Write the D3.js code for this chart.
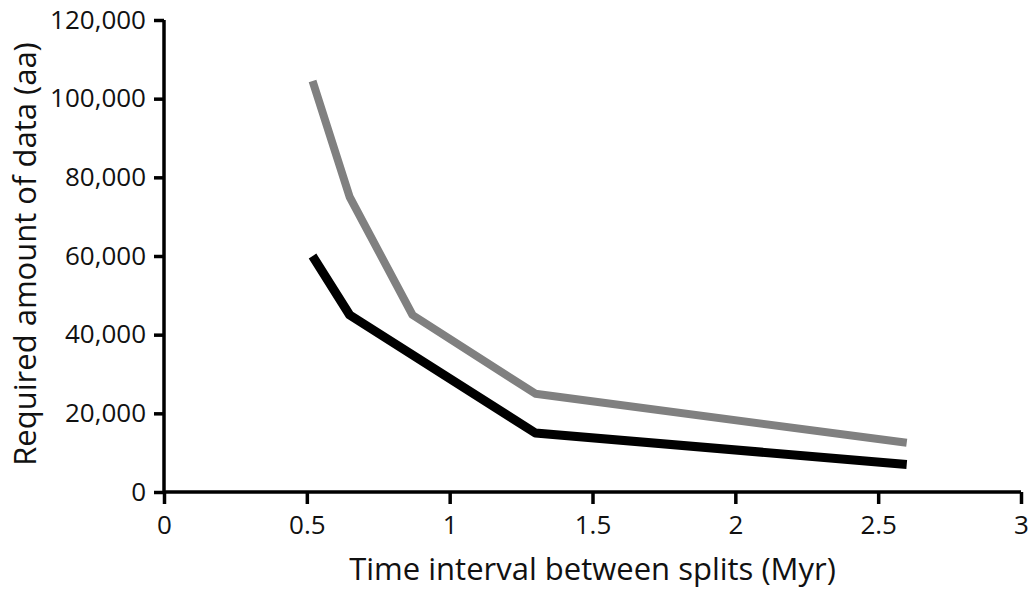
<!DOCTYPE html>
<html>
<head>
<meta charset="utf-8">
<script src="https://cdn.jsdelivr.net/npm/d3@7"></script>
<style>
  body { margin: 0; background: #fff; }
  text { font-family: "Open Sans", "DejaVu Sans", sans-serif; fill: #111; }
</style>
</head>
<body>
<div id="chart"></div>
<script>
// time interval between splits (Myr)
const times = [0.52, 0.65, 0.87, 1.3, 2.6];
// required amount of data (aa)
const grayValues = [104500, 75000, 45000, 25000, 12500];
const blackTimes = [0.52, 0.65, 1.3, 2.6];
const blackValues = [60000, 45000, 15000, 7000];
const xTicks = [0, 0.5, 1, 1.5, 2, 2.5, 3];
const yTicks = [0, 20000, 40000, 60000, 80000, 100000, 120000];

const width = 1032, height = 592;
const margin = {left: 164, right: 11, top: 20, bottom: 100};

const svg = d3.select('#chart').append('svg')
    .attr('width', width)
    .attr('height', height);

const x = d3.scaleLinear().domain([0, 3]).range([margin.left, width - margin.right]);
const y = d3.scaleLinear().domain([0, 120000]).range([492, margin.top]);

const fmt = d3.format(',');

const xAxis = svg.append('g')
    .attr('transform', `translate(0,${y(0)})`)
    .call(d3.axisBottom(x).tickValues(xTicks).tickSize(12).tickPadding(12)
        .tickFormat(d => d));

const yAxis = svg.append('g')
    .attr('transform', `translate(${x(0)},0)`)
    .call(d3.axisLeft(y).tickValues(yTicks).tickSize(10).tickPadding(8)
        .tickFormat(fmt));

[xAxis, yAxis].forEach(ax => {
    ax.select('.domain').attr('stroke', '#000').attr('stroke-width', 3.5);
    ax.selectAll('.tick line').attr('stroke', '#000').attr('stroke-width', 3.5);
    ax.selectAll('.tick text').style('font-size', '26px').attr('fill', '#111');
});
// plain axis lines without outer ticks
xAxis.select('.domain').attr('d', `M${x(0)},0H${x(3)}`);
yAxis.select('.domain').attr('d', `M0,${y(0)}V${y(120000)}`);

const line = d3.line();

svg.append('path')
    .datum(times.map((t, i) => [x(t), y(grayValues[i])]))
    .attr('d', line)
    .attr('fill', 'none')
    .attr('stroke', '#808080')
    .attr('stroke-width', 8)
    .attr('stroke-linejoin', 'round');

svg.append('path')
    .datum(blackTimes.map((t, i) => [x(t), y(blackValues[i])]))
    .attr('d', line)
    .attr('fill', 'none')
    .attr('stroke', '#000')
    .attr('stroke-width', 9)
    .attr('stroke-linejoin', 'round');

svg.append('text')
    .attr('x', (x(0) + x(3)) / 2)
    .attr('y', 580)
    .attr('text-anchor', 'middle')
    .style('font-size', '31px')
    .text('Time interval between splits (Myr)');

svg.append('text')
    .attr('transform', `translate(36,254) rotate(-90)`)
    .attr('text-anchor', 'middle')
    .style('font-size', '31px')
    .text('Required amount of data (aa)');
</script>
</body>
</html>
